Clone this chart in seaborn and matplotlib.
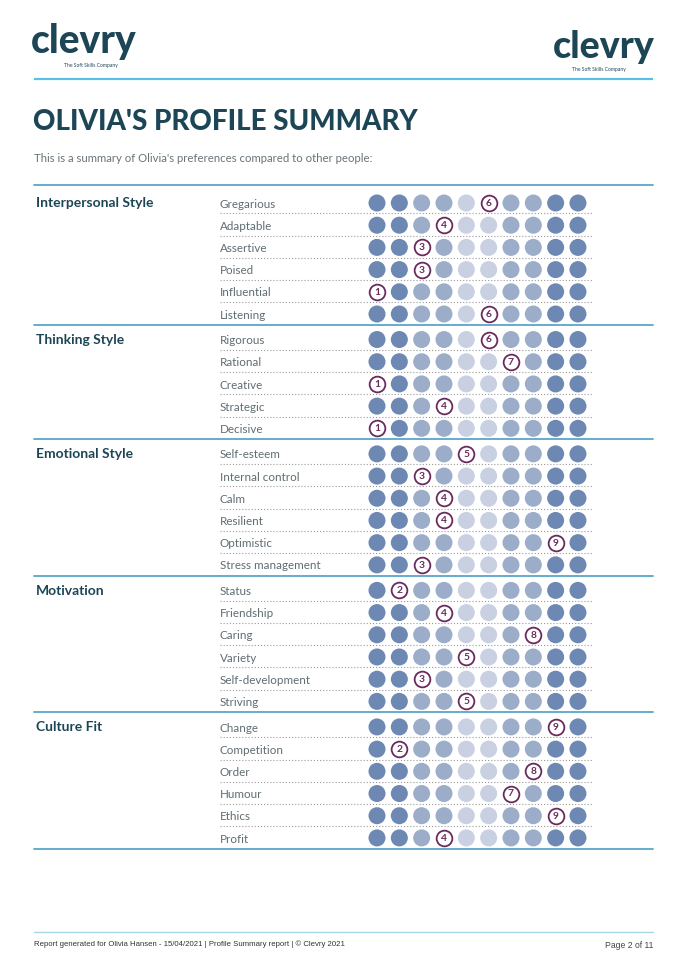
import matplotlib
matplotlib.use("Agg")
import matplotlib.pyplot as plt
import pandas as pd
import seaborn as sns

# ---------------- data ----------------
sections = ["Interpersonal Style", "Thinking Style", "Emotional Style", "Motivation", "Culture Fit"]

interpersonal_traits = ["Gregarious", "Adaptable", "Assertive", "Poised", "Influential", "Listening"]
interpersonal_scores = [6, 4, 3, 3, 1, 6]

thinking_traits = ["Rigorous", "Rational", "Creative", "Strategic", "Decisive"]
thinking_scores = [6, 7, 1, 4, 1]

emotional_traits = ["Self-esteem", "Internal control", "Calm", "Resilient", "Optimistic", "Stress management"]
emotional_scores = [5, 3, 4, 4, 9, 3]

motivation_traits = ["Status", "Friendship", "Caring", "Variety", "Self-development", "Striving"]
motivation_scores = [2, 4, 8, 5, 3, 5]

culture_traits = ["Change", "Competition", "Order", "Humour", "Ethics", "Profit"]
culture_scores = [9, 2, 8, 7, 9, 4]

positions = [1, 2, 3, 4, 5, 6, 7, 8, 9, 10]
position_tiers = ["dark", "dark", "mid", "mid", "light", "light", "mid", "mid", "dark", "dark"]

title = "OLIVIA'S PROFILE SUMMARY"
subtitle = "This is a summary of Olivia's preferences compared to other people:"
footer_left = "Report generated for Olivia Hansen - 15/04/2021 | Profile Summary report | \u00a9 Clevry 2021"
footer_right = "Page 2 of 11"

# ---------------- styles ----------------
tier_colors = {"dark": "#6d88b2", "mid": "#9cadca", "light": "#c8d0e2"}
teal = "#1c4655"
purple = "#6b2a5e"
label_grey = "#5f6d72"
section_line = "#5ba6c8"
header_line = "#5cc0e6"
footer_line = "#a8d7ea"
GAP = 0.15

sns.set_theme(style="white")
plt.rcParams["font.family"] = ["Lato", "DejaVu Sans"]

trait_lists = [interpersonal_traits, thinking_traits, emotional_traits, motivation_traits, culture_traits]
score_lists = [interpersonal_scores, thinking_scores, emotional_scores, motivation_scores, culture_scores]

records = []
rows = []
r = 0
for s, (traits, scores) in enumerate(zip(trait_lists, score_lists)):
    for i, (t, sc) in enumerate(zip(traits, scores)):
        y = r + GAP * s
        rows.append(dict(section=sections[s], trait=t, score=sc, y=y,
                         first=(i == 0), last=(i == len(traits) - 1)))
        for p, tier in zip(positions, position_tiers):
            records.append(dict(trait=t, position=p, y=y, tier=tier, selected=(p == sc)))
        r += 1
df = pd.DataFrame(records)
rows_df = pd.DataFrame(rows)

W, H = 688, 973
fig = plt.figure(figsize=(W / 100, H / 100), dpi=100)

# background / page decoration axes (pixel space)
bg = fig.add_axes([0, 0, 1, 1])
bg.set_xlim(0, W)
bg.set_ylim(H, 0)
bg.axis("off")

# logos
bg.text(31, 53, "clevry", fontsize=28, fontweight="black", color=teal, va="baseline", ha="left")
bg.text(118, 65, "The Soft Skills Company", fontsize=3.6, color=teal, va="center", ha="right")
bg.plot([34, 653], [79, 79], color=header_line, lw=1.6, solid_capstyle="butt")
bg.text(655, 58, "clevry", fontsize=27, fontweight="black", color=teal, va="baseline", ha="right")
bg.text(626, 70, "The Soft Skills Company", fontsize=3.6, color=teal, va="center", ha="right")

# title
bg.text(33, 122, title, fontsize=20, fontweight="black", color=teal, va="center", ha="left")
bg.text(34, 158, subtitle, fontsize=8.2, color="#6a7478", va="center", ha="left")

# footer
bg.plot([34, 653], [932, 932], color=footer_line, lw=1.0)
bg.text(34, 944, footer_left, fontsize=5.6, color="#333333", va="center", ha="left",
        family=["Liberation Sans", "DejaVu Sans"])
bg.text(653, 945, footer_right, fontsize=6.2, color="#444444", va="center", ha="right",
        family=["Liberation Sans", "DejaVu Sans"])

# table axes
x0_px, x1_px = 34, 653
top_px, bot_px = 185, 848
ax = fig.add_axes([x0_px / W, 1 - bot_px / H, (x1_px - x0_px) / W, (bot_px - top_px) / H])
dx = 22.33
ax.set_xlim(1 + (x0_px - 377) / dx, 1 + (x1_px - 377) / dx)
row_px = 22.2
ax.set_ylim((bot_px - 203) / row_px, (top_px - 203) / row_px)
ax.axis("off")

unsel = df[~df["selected"]]
sel = df[df["selected"]]
sns.scatterplot(data=unsel, x="position", y="y", hue="tier", palette=tier_colors,
                s=150, edgecolor="none", linewidth=0, legend=False, ax=ax, zorder=3)
sns.scatterplot(data=sel, x="position", y="y", color="white", edgecolor=purple,
                s=128, linewidth=1.3, legend=False, ax=ax, zorder=4)
for _, rr in sel.iterrows():
    ax.text(rr["position"], rr["y"] + 0.02, str(rr["position"]), ha="center", va="center",
            fontsize=7.4, fontweight="bold", color=purple, zorder=5)

ytr = ax.get_yaxis_transform()
label_x = (220 - x0_px) / (x1_px - x0_px)
dot_end = (592 - x0_px) / (x1_px - x0_px)

first_y = rows_df["y"].iloc[0]
ax.plot([0, 1], [first_y - 0.81, first_y - 0.81], transform=ytr, color=section_line, lw=1.3,
        clip_on=False)
for _, rr in rows_df.iterrows():
    ax.text(label_x, rr["y"] + 0.05, rr["trait"], transform=ytr, ha="left", va="center",
            fontsize=8.4, color=label_grey)
    if rr["first"]:
        ax.text(0.003, rr["y"] + 0.02, rr["section"], transform=ytr, ha="left", va="center",
                fontsize=10, fontweight="bold", color=teal)
    if rr["last"]:
        ax.plot([0, 1], [rr["y"] + 0.48] * 2, transform=ytr, color=section_line, lw=1.3,
                clip_on=False)
    else:
        ax.plot([label_x, dot_end], [rr["y"] + 0.47] * 2, transform=ytr, color="#9a9a9a",
                lw=0.8, linestyle=(0, (1, 1.8)))

fig.savefig("out.png", dpi=100)
